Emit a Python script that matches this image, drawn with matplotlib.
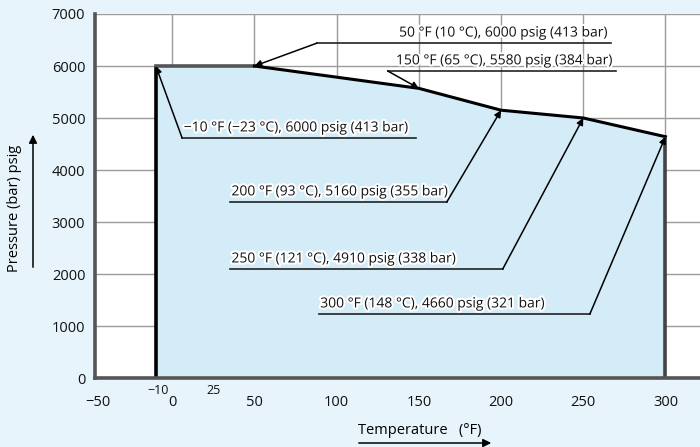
import numpy as np
import matplotlib
matplotlib.use('Agg')
import matplotlib.pyplot as plt
import matplotlib.patheffects as pe

plt.rcParams['font.family'] = ['Open Sans', 'DejaVu Sans']

# envelope of the rating curve (°F, psig)
temp_f = [-10, -10, 50, 150, 200, 250, 300, 300]
press_psig = [0, 6000, 6000, 5570, 5150, 5000, 4640, 0]

# callout texts and the point each one points to
labels = [
    '50 °F (10 °C), 6000 psig (413 bar)',
    '150 °F (65 °C), 5580 psig (384 bar)',
    '\u221210 °F (\u221223 °C), 6000 psig (413 bar)',
    '200 °F (93 °C), 5160 psig (355 bar)',
    '250 °F (121 °C), 4910 psig (338 bar)',
    '300 °F (148 °C), 4660 psig (321 bar)',
]
label_pts = [(50, 6000), (150, 5570), (-10, 6000), (200, 5150), (250, 5000), (300, 4640)]

# underline spans (x0, x1, y) and which end the leader leaves from
under = [(88, 267, 6440), (131, 270, 5905), (6, 148, 4615),
         (35, 167, 3385), (35, 201, 2095), (89, 254, 1230)]
lead_from = ['left', 'left', 'left', 'right', 'right', 'right']
align = ['right', 'right', 'left', 'left', 'left', 'left']

xticks = [-50, 0, 50, 100, 150, 200, 250, 300]
extra_xticks = [-10, 25]
yticks = np.arange(0, 7001, 1000)

bg = '#e7f4fc'
fill = '#d4ebf8'
halo = [pe.withStroke(linewidth=3, foreground='white')]

fig = plt.figure(figsize=(7, 4.47), dpi=100, facecolor=bg)
ax = fig.add_axes([95/700, 1-378/447, 605/700, 364/447])
ax.set_facecolor('white')

ax.fill(temp_f, press_psig, color=fill, zorder=1, lw=0)
ax.plot(temp_f[0:2], press_psig[0:2], color='black', lw=2.6, zorder=4, solid_capstyle='butt')
ax.plot(temp_f[1:3], press_psig[1:3], color='#555555', lw=2.6, zorder=4)
ax.plot(temp_f[2:7], press_psig[2:7], color='black', lw=2.2, zorder=4)
ax.plot(temp_f[6:8], press_psig[6:8], color='#444444', lw=2.6, zorder=4, solid_capstyle='butt')

# -50 sits right on the left spine, so it is written by hand below
ax.set_xticks(xticks[1:])
ax.set_yticks(yticks)
ax.set_xlim(-47, 321)
ax.set_ylim(0, 7000)
ax.grid(True, color='#9c9c9c', lw=1)
ax.set_axisbelow(True)
for s in ['top', 'right']:
    ax.spines[s].set_visible(False)
for s in ['left', 'bottom']:
    ax.spines[s].set_color('#555555')
    ax.spines[s].set_linewidth(2.6)
    ax.spines[s].set_zorder(5)
ax.tick_params(axis='both', length=0, labelsize=10.5, colors='#111111')
ax.tick_params(axis='x', pad=12)
ax.tick_params(axis='y', pad=7)

ax.text(0.004, -0.067, '\u221250', transform=ax.transAxes, ha='center', va='center',
        fontsize=10.5, color='#111111')

# small extra labels under the axis
for v in extra_xticks:
    ax.text(v + (1.5 if v < 0 else 0), -0.033, str(v).replace('-', '\u2212'),
            transform=ax.get_xaxis_transform(), ha='center', va='center',
            fontsize=9, color='#111111')

for txt, pt, (x0, x1, yu), side, ha in zip(labels, label_pts, under, lead_from, align):
    ax.plot([x0, x1], [yu, yu], color='#222222', lw=1.2, zorder=6)
    tx = x1 - 2 if ha == 'right' else x0 + 1
    ax.text(tx, yu + 50, txt, ha=ha, va='bottom', fontsize=10,
            color='#111111', path_effects=halo, zorder=7)
    sx = x0 if side == 'left' else x1
    ax.annotate('', xy=pt, xytext=(sx, yu),
                arrowprops=dict(arrowstyle='-|>', color='black', lw=1.1,
                                mutation_scale=10, shrinkA=0, shrinkB=0),
                zorder=6)

# axis titles with arrows
fig.text(420/700, 1-431/447, 'Temperature   (°F)', ha='center', va='center', fontsize=10.5)
fig.add_artist(matplotlib.patches.FancyArrowPatch(
    (356/700, 1-443/447), (494/700, 1-443/447), transform=fig.transFigure,
    arrowstyle='-|>', mutation_scale=12, color='black', lw=1.1))
fig.text(15/700, 1-208/447, 'Pressure (bar) psig', rotation=90, ha='center', va='center', fontsize=10.5)
fig.add_artist(matplotlib.patches.FancyArrowPatch(
    (33/700, 1-270/447), (33/700, 1-132/447), transform=fig.transFigure,
    arrowstyle='-|>', mutation_scale=12, color='black', lw=1.1))

fig.savefig('out.png', dpi=100, facecolor=bg)
